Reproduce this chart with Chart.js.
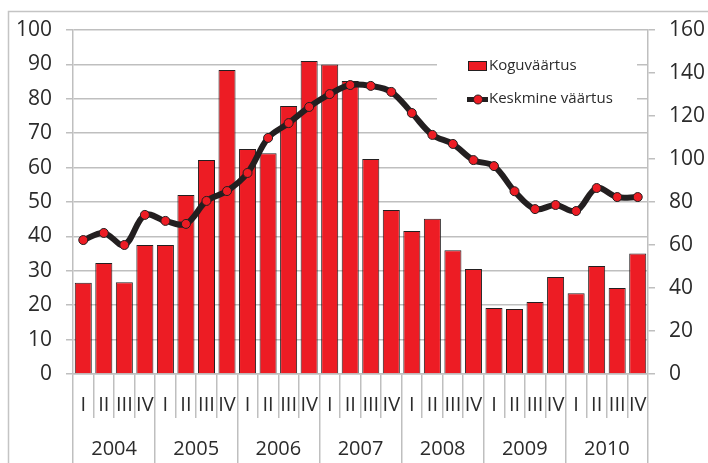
<!DOCTYPE html>
<html>
<head>
<meta charset="utf-8">
<script src="https://cdn.jsdelivr.net/npm/chart.js@4"></script>
<style>
  html, body { margin: 0; padding: 0; background: #fff; }
  canvas { display: block; }
</style>
</head>
<body>
<canvas id="chart" width="708" height="463"></canvas>
<script>
// Koguväärtus (bars, left axis) and Keskmine väärtus (line, right axis), 2004-2010 by quarter
const quarters = ['I', 'II', 'III', 'IV', 'I', 'II', 'III', 'IV', 'I', 'II', 'III', 'IV', 'I', 'II', 'III', 'IV',
  'I', 'II', 'III', 'IV', 'I', 'II', 'III', 'IV', 'I', 'II', 'III', 'IV'];
const years = ['2004', '2005', '2006', '2007', '2008', '2009', '2010'];
const koguvaartus = [26.5, 32.3, 26.7, 37.5, 37.5, 52, 62.2, 88.4, 65.4, 64.2, 77.9, 91, 90, 85.2, 62.5, 47.7,
  41.6, 45.1, 36, 30.5, 19.2, 18.9, 20.9, 28.2, 23.5, 31.4, 25, 35];
const keskmine = [62.3, 65.6, 60, 74, 71.2, 69.8, 80.5, 85.1, 93.5, 109.8, 116.7, 124.2, 130.2, 134.4, 134, 131.2,
  121.4, 111.2, 107, 99.5, 96.7, 85, 76.7, 78.6, 75.8, 86.5, 82.3, 82.3];
const leftTicks = { min: 0, max: 100, step: 10 };
const rightTicks = { min: 0, max: 160, step: 20 };

const RED = '#ed1c24';
const DARK = '#231f20';
const GRID = '#bfbfbf';
const TEXT = '#2b2b2b';
const FONT = 'Open Sans';

// frame around the whole chart
const framePlugin = {
  id: 'frame',
  beforeDraw(chart) {
    const ctx = chart.ctx;
    ctx.save();
    ctx.strokeStyle = '#c4c4c4';
    ctx.lineWidth = 1.5;
    ctx.strokeRect(8.5, 11.5, 760, 500);
    ctx.restore();
  }
};

// legend on white box inside the plot
const legendPlugin = {
  id: 'boxLegend',
  afterDraw(chart) {
    const ctx = chart.ctx;
    const ds = chart.data.datasets;
    ctx.save();
    ctx.fillStyle = '#fff';
    ctx.fillRect(437, 47, 200, 66);
    ctx.font = '15px "' + FONT + '"';
    ctx.textBaseline = 'middle';
    // bar entry
    ctx.fillStyle = RED;
    ctx.fillRect(468, 61, 19, 10);
    ctx.strokeStyle = DARK;
    ctx.lineWidth = 1;
    ctx.strokeRect(468.5, 61.5, 18, 9);
    ctx.fillStyle = TEXT;
    ctx.fillText(ds[1].label, 489, 66);
    // line entry
    ctx.strokeStyle = DARK;
    ctx.lineWidth = 5;
    ctx.beginPath();
    ctx.moveTo(467, 99.5);
    ctx.lineTo(488, 99.5);
    ctx.stroke();
    ctx.beginPath();
    ctx.arc(478, 99.5, 4.5, 0, Math.PI * 2);
    ctx.fillStyle = RED;
    ctx.fill();
    ctx.lineWidth = 1;
    ctx.stroke();
    ctx.fillStyle = TEXT;
    ctx.fillText(ds[0].label, 489, 99);
    ctx.restore();
  }
};

new Chart(document.getElementById('chart'), {
  type: 'bar',
  data: {
    labels: quarters,
    datasets: [{
      type: 'line',
      label: 'Keskmine väärtus',
      data: keskmine,
      yAxisID: 'y1',
      xAxisID: 'x',
      borderColor: DARK,
      borderWidth: 6,
      tension: 0.35,
      pointRadius: 4.5,
      pointBackgroundColor: RED,
      pointBorderColor: DARK,
      pointBorderWidth: 1,
      order: 0
    }, {
      label: 'Koguväärtus',
      data: koguvaartus,
      yAxisID: 'y',
      xAxisID: 'x',
      backgroundColor: RED,
      borderColor: DARK,
      borderWidth: 1,
      barPercentage: 0.83,
      categoryPercentage: 1,
      order: 1
    }]
  },
  options: {
    responsive: false,
    animation: false,
    layout: { padding: { top: 30, left: 0, right: 0, bottom: 0 } },
    plugins: { legend: { display: false }, tooltip: { enabled: false } },
    scales: {
      x: {
        type: 'category',
        position: 'bottom',
        weight: 0,
        offset: true,
        grid: { offset: true, drawOnChartArea: false, tickLength: 44, color: GRID, lineWidth: 1.5 },
        border: { display: true, color: GRID, width: 1.5 },
        ticks: { color: TEXT, font: { family: FONT, size: 20 }, padding: -25, maxRotation: 0, autoSkip: false },
        afterFit: s => { s.height = 44; }
      },
      x2: {
        type: 'category',
        labels: years,
        position: 'bottom',
        weight: 1,
        offset: true,
        grid: { offset: true, drawOnChartArea: false, tickLength: 45, color: GRID, lineWidth: 1.5 },
        border: { display: false },
        ticks: { color: TEXT, font: { family: FONT, size: 20 }, padding: -26, maxRotation: 0, autoSkip: false },
        afterFit: s => { s.height = 45; }
      },
      y: {
        position: 'left',
        min: leftTicks.min,
        max: leftTicks.max,
        grid: { color: GRID, lineWidth: 1.5, tickLength: 7 },
        border: { display: true, color: GRID, width: 1.5 },
        ticks: { stepSize: leftTicks.step, color: TEXT, font: { family: FONT, size: 21 }, padding: 14 },
        afterFit: s => { s.width = 73; }
      },
      y1: {
        position: 'right',
        min: rightTicks.min,
        max: rightTicks.max,
        grid: { drawOnChartArea: false, color: GRID, lineWidth: 1.5, tickLength: 7 },
        border: { display: true, color: GRID, width: 1.5 },
        ticks: { stepSize: rightTicks.step, color: TEXT, font: { family: FONT, size: 21 }, padding: 14 },
        afterFit: s => { s.width = 60; }
      }
    }
  },
  plugins: [framePlugin, legendPlugin]
});
</script>
</body>
</html>
